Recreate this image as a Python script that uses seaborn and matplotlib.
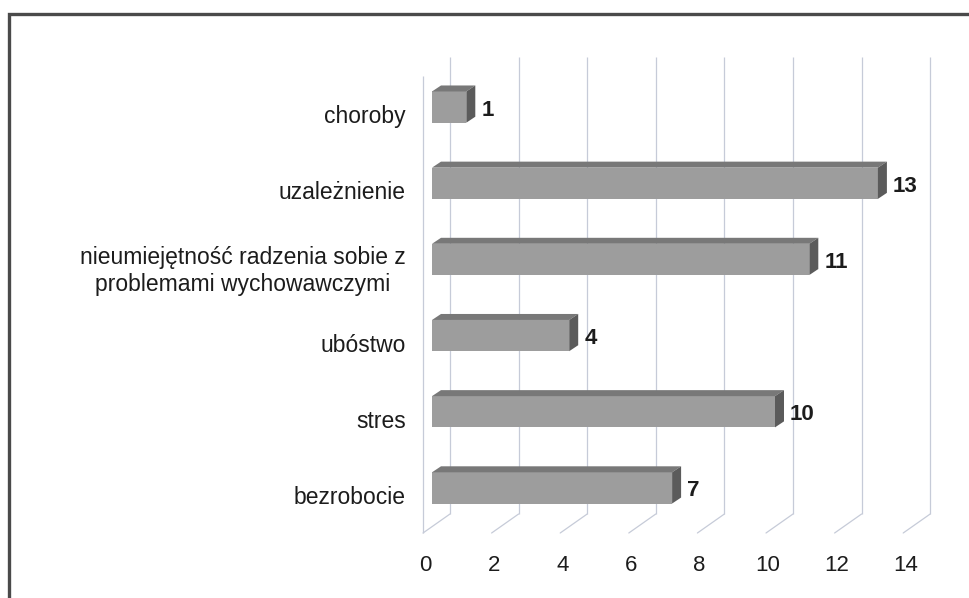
import matplotlib
matplotlib.use("Agg")
import matplotlib.pyplot as plt
import matplotlib.transforms as mtransforms
from matplotlib.patches import Polygon, Rectangle
from matplotlib.lines import Line2D
import seaborn as sns
import pandas as pd

# ----------------------------------------------------------------
# Data
# ----------------------------------------------------------------
categories = [
    "choroby",
    "uzależnienie",
    "nieumiejętność radzenia sobie z\nproblemami wychowawczymi",
    "ubóstwo",
    "stres",
    "bezrobocie",
]
values = [1, 13, 11, 4, 10, 7]
x_ticks = [0, 2, 4, 6, 8, 10, 12, 14]

df = pd.DataFrame({"kategoria": categories, "liczba": values})

# ----------------------------------------------------------------
# Style
# ----------------------------------------------------------------
sns.set_theme(style="white")
plt.rcParams["font.family"] = ["Liberation Sans", "DejaVu Sans"]

DPI = 100
FACE = "#9d9d9d"
TOP = "#787878"
SIDE = "#5b5b5b"
GRID = "#c6cbd8"
BAR_DEPTH = (9, 6)      # px, depth of each bar
BACK_OFF = (18, 12)     # px, back wall relative to bar plane
FRONT_OFF = (-9, -7)    # px, front edge relative to bar plane

fig = plt.figure(figsize=(9.7, 5.98), dpi=DPI)
ax = fig.add_axes([432 / 970, 1 - 526 / 598, 514.5 / 970, 457 / 598])

sns.barplot(data=df, x="liczba", y="kategoria", orient="h", color=FACE,
            width=0.41, saturation=1, linewidth=0, ax=ax, zorder=3)
ax.set_xlim(0, 15)
ax.set_ylim(5.5, -0.5)
ax.set_autoscale_on(False)
ax.set_xlabel("")
ax.set_ylabel("")
for s in ax.spines.values():
    s.set_visible(False)

# ----------------------------------------------------------------
# Back wall gridlines + floor diagonals + left wall edge
# ----------------------------------------------------------------
px = fig.dpi_scale_trans
back_tr = ax.get_xaxis_transform() + mtransforms.ScaledTranslation(
    BACK_OFF[0] / DPI, BACK_OFF[1] / DPI, px)
front_tr = ax.get_xaxis_transform() + mtransforms.ScaledTranslation(
    FRONT_OFF[0] / DPI, FRONT_OFF[1] / DPI, px)
ax.vlines(x_ticks, 0, 1, transform=back_tr, color=GRID, lw=0.9, zorder=1, clip_on=False)
ax.vlines([x_ticks[0]], 0, 1, transform=front_tr, color=GRID, lw=0.9, zorder=1, clip_on=False)

ident = mtransforms.IdentityTransform()
for t in x_ticks:
    bx, by = ax.get_xaxis_transform().transform((t, 0))
    ln = Line2D([bx + FRONT_OFF[0], bx + BACK_OFF[0]],
                [by + FRONT_OFF[1], by + BACK_OFF[1]],
                transform=ident, color=GRID, lw=0.9, zorder=1)
    fig.add_artist(ln)

# ----------------------------------------------------------------
# Fake 3D faces on each bar, value labels
# ----------------------------------------------------------------
dx, dy = BAR_DEPTH
for patch, v in zip(ax.patches, values):
    x0, y0 = patch.get_x(), patch.get_y()
    (l, b) = ax.transData.transform((x0, y0 + patch.get_height()))
    (r, t) = ax.transData.transform((x0 + patch.get_width(), y0))
    top = Polygon([(l, t), (r, t), (r + dx, t + dy), (l + dx, t + dy)],
                  closed=True, transform=ident, facecolor=TOP, edgecolor="none", zorder=2)
    side = Polygon([(r, b), (r, t), (r + dx, t + dy), (r + dx, b + dy)],
                   closed=True, transform=ident, facecolor=SIDE, edgecolor="none", zorder=2)
    fig.add_artist(top)
    fig.add_artist(side)
    ax.annotate(f"{v}", xy=(v, y0 + patch.get_height() / 2), xytext=(dx + 6, -3),
                textcoords="offset pixels", ha="left", va="center",
                fontsize=16, fontweight="bold", color="#1c1c1c")

# ----------------------------------------------------------------
# Axis labels
# ----------------------------------------------------------------
ax.set_xticks(x_ticks)
ax.tick_params(axis="x", length=0, pad=21, labelsize=16, labelcolor="#1c1c1c")
ax.tick_params(axis="y", length=0, pad=19, labelsize=16.5, labelcolor="#1c1c1c")
for lab in ax.get_xticklabels():
    lab.set_transform(lab.get_transform() + mtransforms.ScaledTranslation(-7 / DPI, 0, px))
for lab in ax.get_yticklabels():
    lab.set_multialignment("center")
    lab.set_transform(lab.get_transform() + mtransforms.ScaledTranslation(0, -7 / DPI, px))

# outer frame (only the top and left edges fall inside the picture)
fig.add_artist(Rectangle((9 / 970, -0.2), 1.2, 1.2 - 14 / 598, transform=fig.transFigure,
                         fill=False, edgecolor="#4a4a4a", lw=2.4))

fig.savefig("out.png", dpi=DPI)
